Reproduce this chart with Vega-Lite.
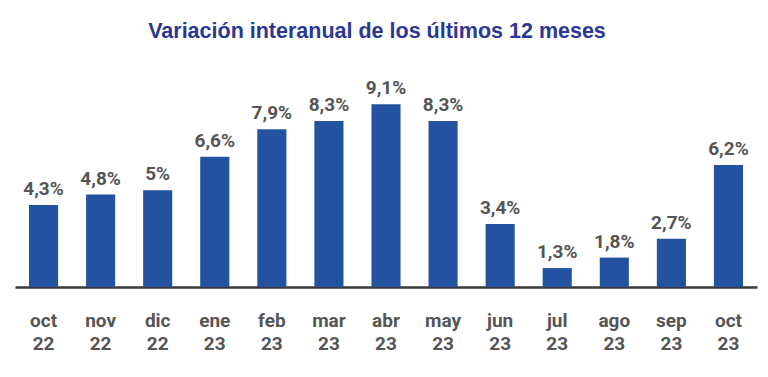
{
  "$schema": "https://vega.github.io/schema/vega-lite/v6.json",
  "width": 742,
  "height": 227,
  "autosize": {"type": "none"},
  "padding": {"left": 15, "top": 60, "right": 11, "bottom": 90},
  "background": "white",
  "title": {
    "text": "Variación interanual de los últimos 12 meses",
    "font": "Liberation Sans",
    "fontSize": 21.5,
    "fontWeight": "bold",
    "color": "#2B3795",
    "anchor": "middle",
    "dx": -9,
    "offset": 18
  },
  "data": {
    "values": [
      {"mes": "oct 22", "valor": 4.3, "etiqueta": "4,3%"},
      {"mes": "nov 22", "valor": 4.8, "etiqueta": "4,8%"},
      {"mes": "dic 22", "valor": 5.0, "etiqueta": "5%"},
      {"mes": "ene 23", "valor": 6.6, "etiqueta": "6,6%"},
      {"mes": "feb 23", "valor": 7.9, "etiqueta": "7,9%"},
      {"mes": "mar 23", "valor": 8.3, "etiqueta": "8,3%"},
      {"mes": "abr 23", "valor": 9.1, "etiqueta": "9,1%"},
      {"mes": "may 23", "valor": 8.3, "etiqueta": "8,3%"},
      {"mes": "jun 23", "valor": 3.4, "etiqueta": "3,4%"},
      {"mes": "jul 23", "valor": 1.3, "etiqueta": "1,3%"},
      {"mes": "ago 23", "valor": 1.8, "etiqueta": "1,8%"},
      {"mes": "sep 23", "valor": 2.7, "etiqueta": "2,7%"},
      {"mes": "oct 23 ", "valor": 6.2, "etiqueta": "6,2%"}
    ]
  },
  "encoding": {
    "x": {
      "field": "mes",
      "type": "nominal",
      "sort": null,
      "scale": {"paddingInner": 0.49, "paddingOuter": 0.245},
      "axis": {
        "title": null,
        "labelAngle": 0,
        "labelExpr": "split(trim(datum.label), ' ')",
        "labelFont": "Roboto",
        "labelFontWeight": "bold",
        "labelFontSize": 19,
        "labelColor": "#555555",
        "labelLineHeight": 23,
        "labelPadding": 24,
        "ticks": false,
        "domainColor": "#3a3a3a",
        "domainWidth": 2.5
      }
    },
    "y": {
      "field": "valor",
      "type": "quantitative",
      "scale": {"domain": [0.4, 11.2], "zero": false, "nice": false},
      "axis": null
    }
  },
  "layer": [
    {
      "mark": {"type": "bar", "color": "#2353A0"},
      "encoding": {"y2": {"datum": 0.4}}
    },
    {
      "mark": {
        "type": "text",
        "font": "Roboto",
        "fontWeight": "bold",
        "fontSize": 19,
        "color": "#555555",
        "baseline": "alphabetic",
        "dy": -10
      },
      "encoding": {"text": {"field": "etiqueta"}}
    }
  ],
  "config": {"view": {"stroke": null}}
}
